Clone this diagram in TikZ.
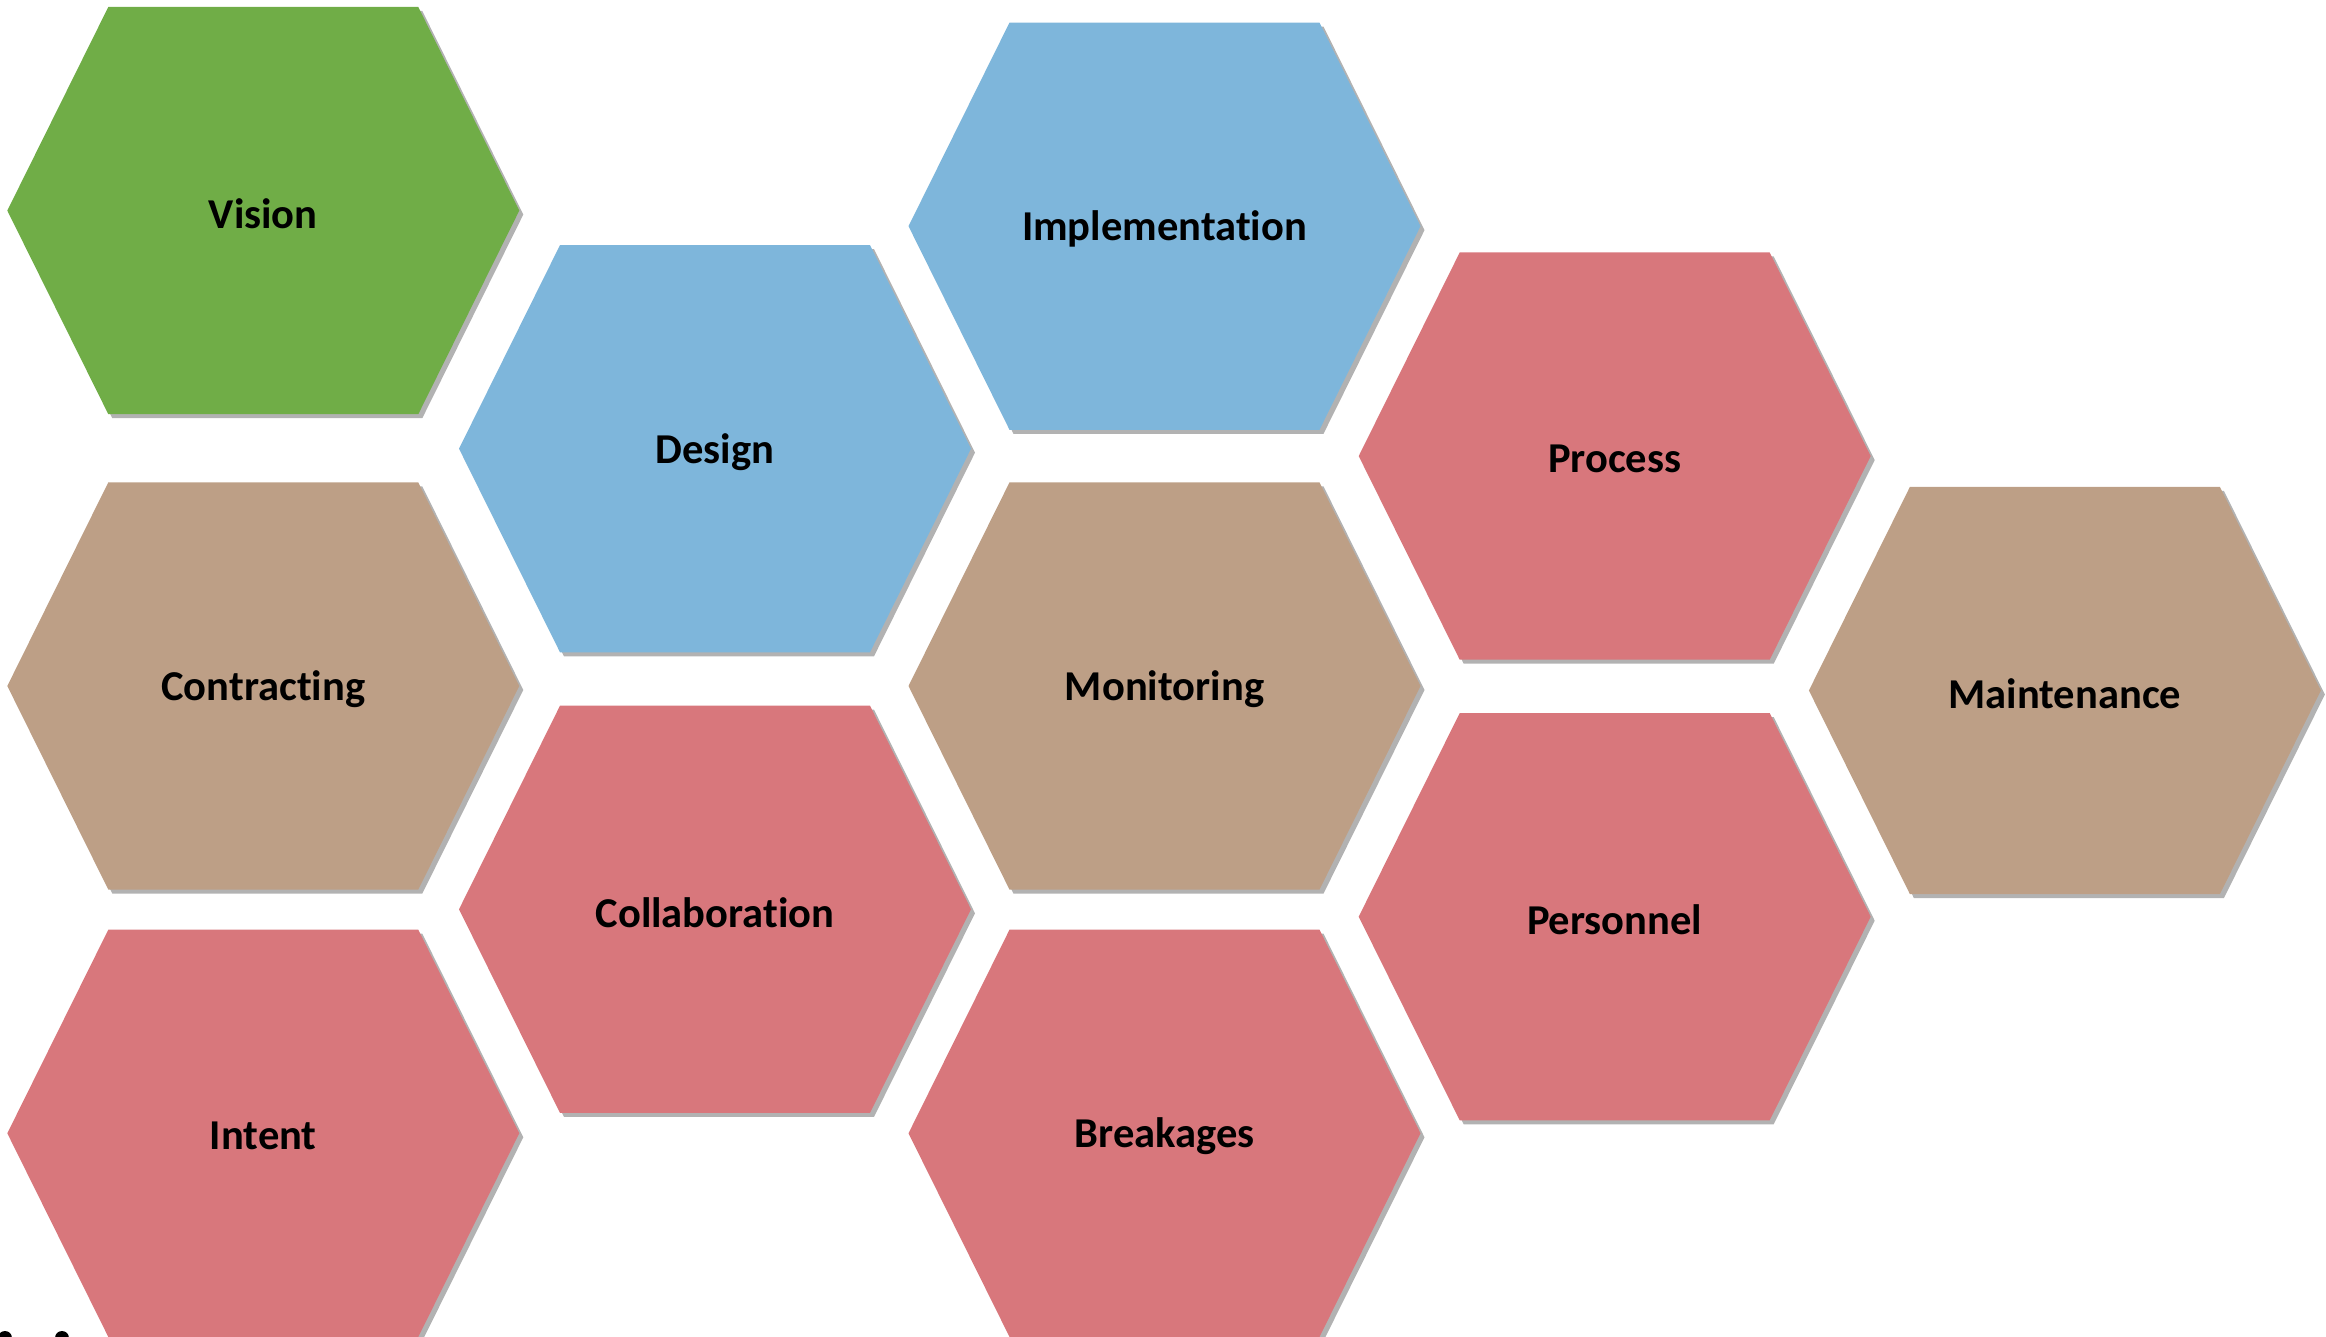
\documentclass[tikz,border=0pt]{standalone}
\usepackage{fontspec}
\setmainfont[Ligatures=NoCommon]{Carlito}
\usepackage{tikz}
\usetikzlibrary{shadows}

\definecolor{hexgreen}{HTML}{70AD47}
\definecolor{hexblue}{HTML}{7EB6DB}
\definecolor{hexred}{HTML}{D8777C}
\definecolor{hextan}{HTML}{BD9F86}

\tikzset{
	hexlabel/.style={font=\fontsize{12.1}{15}\selectfont\bfseries, text=black, inner sep=0pt, yshift=-0.03cm},
	hexshadow/.style={drop shadow={shadow xshift=0.04cm, shadow yshift=-0.04cm, fill=black, opacity=0.3}}
}

% one cell: name, x, y, colour, text
\newcommand{\hexcell}[5]{%
	\begin{scope}[shift={(#2,#3)}]
		\fill[#4, hexshadow] (-256,0) -- (-155,203.6) -- (155,203.6) -- (256,0) -- (155,-203.6) -- (-155,-203.6) -- cycle;
	\end{scope}
	\node[hexlabel] (#1) at (#2,#3) {#5};
}

\begin{document}
\begin{tikzpicture}[x=0.01cm, y=-0.01cm]
	\useasboundingbox (0,0) rectangle (2326,1337);
	\clip (0,0) rectangle (2326,1337);
	\hexcell{vision}{263.3}{210.6}{hexgreen}{Vision}
	\hexcell{contracting}{263.3}{686}{hextan}{Contracting}
	\hexcell{intent}{263.3}{1133.3}{hexred}{Intent}
	\hexcell{design}{715}{448.7}{hexblue}{Design}
	\hexcell{collab}{715}{909.3}{hexred}{Collaboration}
	\hexcell{impl}{1164.5}{226.2}{hexblue}{Implementation}
	\hexcell{monitoring}{1164.5}{686}{hextan}{Monitoring}
	\hexcell{breakages}{1164.5}{1133.3}{hexred}{Breakages}
	\hexcell{process}{1614.7}{456.1}{hexred}{Process}
	\hexcell{personnel}{1614.7}{916.7}{hexred}{Personnel}
	\hexcell{maintenance}{2064.9}{690.5}{hextan}{Maintenance}
	\fill[black] (5,1338) circle (7);
	\fill[black] (62,1338) circle (7);
\end{tikzpicture}
\end{document}
